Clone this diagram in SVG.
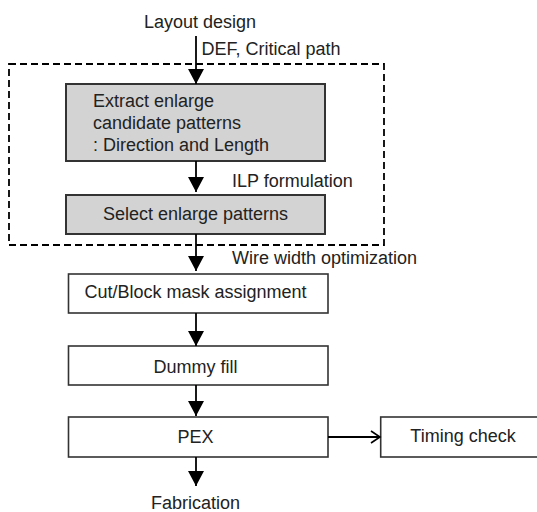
<svg xmlns="http://www.w3.org/2000/svg" width="537" height="512" viewBox="0 0 537 512">
<defs>
<style>
text{font-family:"Liberation Sans",Arial,sans-serif;font-size:18px;fill:#222}
.mid{text-anchor:middle}
.box{fill:#fff;stroke:#333;stroke-width:1.6}
.gbox{fill:#d3d3d3;stroke:#333;stroke-width:2}
.ln{stroke:#000;stroke-width:1.8;fill:none}
.dash{fill:none;stroke:#000;stroke-width:1.8;stroke-dasharray:7 4}
</style>
<marker id="tri" markerUnits="userSpaceOnUse" markerWidth="16" markerHeight="16" viewBox="0 0 16 16" refX="15" refY="8" orient="auto">
<path d="M0,0 L15,8 L0,16 Z" fill="#000"/>
</marker>
<marker id="open" markerUnits="userSpaceOnUse" markerWidth="12" markerHeight="14" viewBox="0 0 12 14" refX="10" refY="7" orient="auto">
<path d="M1,1 L10,7 L1,13" fill="none" stroke="#000" stroke-width="1.6"/>
</marker>
</defs>
<rect x="0" y="0" width="537" height="512" fill="#fff"/>
<g id="boundary">
<rect class="dash" x="9" y="64" width="375" height="181"/>
</g>
<g id="layout-design"><text class="mid" x="200" y="28">Layout design</text></g>
<g id="extract">
<rect class="gbox" x="66" y="84" width="259" height="77"/>
<text x="93" y="107">Extract enlarge</text>
<text x="93" y="129">candidate patterns</text>
<text x="93" y="151">: Direction and Length</text>
</g>
<g id="select">
<rect class="gbox" x="66" y="195" width="259" height="39"/>
<text class="mid" x="195.5" y="220">Select enlarge patterns</text>
</g>
<g id="cutblock">
<rect class="box" x="68.5" y="274" width="259.5" height="39"/>
<text class="mid" x="195.5" y="298">Cut/Block mask assignment</text>
</g>
<g id="dummy">
<rect class="box" x="68.5" y="346" width="259.5" height="39"/>
<text class="mid" x="195.5" y="373">Dummy fill</text>
</g>
<g id="pex">
<rect class="box" x="68.5" y="417" width="259.5" height="40"/>
<text class="mid" x="195.5" y="443">PEX</text>
</g>
<g id="timing">
<rect class="box" x="380.7" y="417" width="170" height="40"/>
<text class="mid" x="463" y="442">Timing check</text>
</g>
<g id="fabrication"><text class="mid" x="195.5" y="509">Fabrication</text></g>
<g id="connectors">
<line class="ln" x1="196" y1="36" x2="196" y2="84" marker-end="url(#tri)"/>
<line class="ln" x1="196" y1="161" x2="196" y2="192" marker-end="url(#tri)"/>
<line class="ln" x1="196" y1="234" x2="196" y2="271" marker-end="url(#tri)"/>
<line class="ln" x1="196" y1="313" x2="196" y2="346" marker-end="url(#tri)"/>
<line class="ln" x1="196" y1="385" x2="196" y2="416" marker-end="url(#tri)"/>
<line class="ln" x1="196" y1="457" x2="196" y2="486" marker-end="url(#tri)"/>
<line class="ln" x1="328" y1="437" x2="380" y2="437" stroke-width="1.4" marker-end="url(#open)"/>
<text x="201.5" y="55">DEF, Critical path</text>
<text x="232" y="187">ILP formulation</text>
<text x="232" y="264">Wire width optimization</text>
</g>
</svg>
